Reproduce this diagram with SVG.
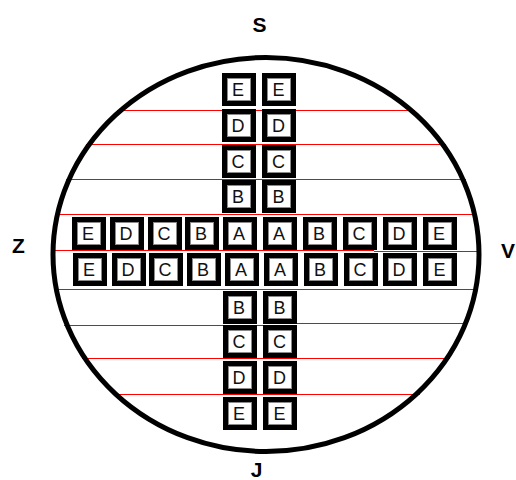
<svg xmlns="http://www.w3.org/2000/svg" width="516" height="480" viewBox="0 0 516 480">
<style>
.lbl{font-family:"Liberation Sans",Arial,sans-serif;font-weight:bold;font-size:21px;fill:#000;text-anchor:middle}
.t{font-family:"Liberation Sans",Arial,sans-serif;font-size:18px;fill:#111;text-anchor:middle}
.rl{stroke:#f00;stroke-width:1;fill:none}
</style>
<defs>
<symbol id="f" overflow="visible">
<rect x="0" y="0" width="34" height="33" fill="#000"/>
<rect x="5.5" y="5.5" width="23" height="22" fill="#fff" stroke="#8a8a8a" stroke-width="1"/>
</symbol>
</defs>
<rect width="516" height="480" fill="#fff"/>
<g id="lines">
<line class="rl" x1="117" y1="110.5" x2="415" y2="110.5"/>
<line class="rl" x1="86" y1="144.5" x2="446" y2="144.5"/>
<line class="rl" x1="66" y1="179.5" x2="466" y2="179.5"/>
<line class="rl" x1="55" y1="214.5" x2="477" y2="214.5"/>
<line class="rl" x1="51" y1="250.5" x2="374" y2="250.5"/>
<line class="rl" x1="374" y1="251.5" x2="481" y2="251.5"/>
<line class="rl" x1="54" y1="289.5" x2="478" y2="289.5"/>
<line class="rl" x1="64" y1="325.5" x2="265" y2="325.5"/>
<line class="rl" x1="265" y1="323.5" x2="468" y2="323.5"/>
<line class="rl" x1="82" y1="358.5" x2="450" y2="358.5"/>
<line class="rl" x1="113" y1="394.5" x2="420" y2="394.5"/>
</g>
<ellipse id="wafer" cx="266" cy="254.5" rx="213" ry="197" fill="none" stroke="#000" stroke-width="5"/>
<g id="labels">
<text class="lbl" x="259.5" y="32">S</text>
<text class="lbl" x="18.5" y="252.5">Z</text>
<text class="lbl" x="508" y="257.5">V</text>
<text class="lbl" x="256.5" y="477">J</text>
</g>
<!-- top column -->
<g id="tE1"><use href="#f" x="222" y="73"/><text class="t" x="238" y="96">E</text></g>
<g id="tE2"><use href="#f" x="262" y="73"/><text class="t" x="278.5" y="96">E</text></g>
<g id="tD1"><use href="#f" x="222" y="109"/><text class="t" x="238" y="132">D</text></g>
<g id="tD2"><use href="#f" x="262" y="109"/><text class="t" x="278.5" y="132">D</text></g>
<g id="tC1"><use href="#f" x="222" y="145"/><text class="t" x="238" y="168">C</text></g>
<g id="tC2"><use href="#f" x="262" y="145"/><text class="t" x="278.5" y="168">C</text></g>
<g id="tB1"><use href="#f" x="222" y="180"/><text class="t" x="238" y="203">B</text></g>
<g id="tB2"><use href="#f" x="262" y="180"/><text class="t" x="278.5" y="203">B</text></g>
<!-- row 1 -->
<g id="r1E1"><use href="#f" x="72" y="217"/><text class="t" x="88" y="240">E</text></g>
<g id="r1D1"><use href="#f" x="110" y="217"/><text class="t" x="126" y="240">D</text></g>
<g id="r1C1"><use href="#f" x="148" y="217"/><text class="t" x="164" y="240">C</text></g>
<g id="r1B1"><use href="#f" x="185" y="217"/><text class="t" x="201" y="240">B</text></g>
<g id="r1A1"><use href="#f" x="223" y="217"/><text class="t" x="239" y="240">A</text></g>
<g id="r1A2"><use href="#f" x="263" y="217"/><text class="t" x="279" y="240">A</text></g>
<g id="r1B2"><use href="#f" x="303" y="217"/><text class="t" x="319" y="240">B</text></g>
<g id="r1C2"><use href="#f" x="343" y="217"/><text class="t" x="359" y="240">C</text></g>
<g id="r1D2"><use href="#f" x="383" y="217"/><text class="t" x="399" y="240">D</text></g>
<g id="r1E2"><use href="#f" x="423" y="217"/><text class="t" x="439" y="240">E</text></g>
<!-- row 2 -->
<g id="r2E1"><use href="#f" x="73" y="253"/><text class="t" x="89" y="276">E</text></g>
<g id="r2D1"><use href="#f" x="112" y="253"/><text class="t" x="128" y="276">D</text></g>
<g id="r2C1"><use href="#f" x="149" y="253"/><text class="t" x="165" y="276">C</text></g>
<g id="r2B1"><use href="#f" x="187" y="253"/><text class="t" x="203" y="276">B</text></g>
<g id="r2A1"><use href="#f" x="225" y="253"/><text class="t" x="241" y="276">A</text></g>
<g id="r2A2"><use href="#f" x="264" y="253"/><text class="t" x="280" y="276">A</text></g>
<g id="r2B2"><use href="#f" x="304" y="253"/><text class="t" x="320" y="276">B</text></g>
<g id="r2C2"><use href="#f" x="344" y="253"/><text class="t" x="360" y="276">C</text></g>
<g id="r2D2"><use href="#f" x="383" y="253"/><text class="t" x="399" y="276">D</text></g>
<g id="r2E2"><use href="#f" x="423" y="253"/><text class="t" x="439.5" y="276">E</text></g>
<!-- bottom column -->
<g id="bB1"><use href="#f" x="223" y="291"/><text class="t" x="239" y="314">B</text></g>
<g id="bB2"><use href="#f" x="263" y="291"/><text class="t" x="279.5" y="314">B</text></g>
<g id="bC1"><use href="#f" x="223" y="325"/><text class="t" x="239" y="348">C</text></g>
<g id="bC2"><use href="#f" x="263" y="325"/><text class="t" x="279.5" y="348">C</text></g>
<g id="bD1"><use href="#f" x="223" y="361"/><text class="t" x="239" y="384">D</text></g>
<g id="bD2"><use href="#f" x="263" y="361"/><text class="t" x="279.5" y="384">D</text></g>
<g id="bE1"><use href="#f" x="223" y="397"/><text class="t" x="239" y="420">E</text></g>
<g id="bE2"><use href="#f" x="263" y="397"/><text class="t" x="279.5" y="420">E</text></g>
</svg>
